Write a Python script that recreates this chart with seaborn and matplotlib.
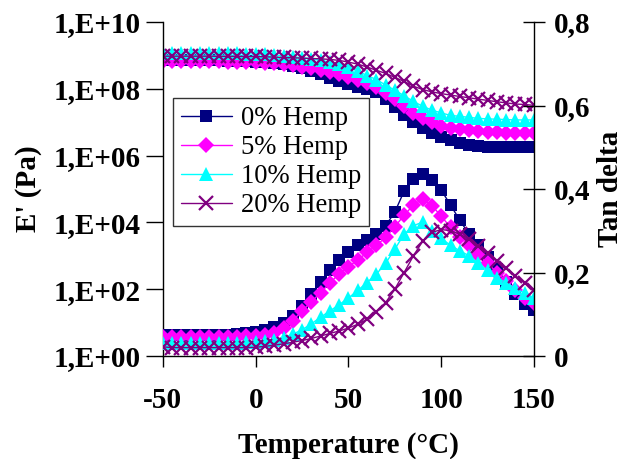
import numpy as np
import pandas as pd
import matplotlib
matplotlib.use("Agg")
import matplotlib.pyplot as plt
from matplotlib.ticker import FixedLocator, FuncFormatter, NullLocator
import seaborn as sns

# temperature grid (°C)
temp = [-50, -45, -40, -35, -30, -25, -20, -15, -10, -5, 0, 5, 10, 15, 20, 25, 30, 35, 40, 45,
        50, 55, 60, 65, 70, 75, 80, 85, 90, 95, 100, 105, 110, 115, 120, 125, 130, 135, 140, 145, 150]

labels = ["0% Hemp", "5% Hemp", "10% Hemp", "20% Hemp"]

# storage modulus E' (Pa)
e_0 = [7.2e8, 7.2e8, 7.2e8, 7.2e8, 7.2e8, 7.1e8, 7.1e8, 7.0e8, 6.9e8, 6.7e8, 6.5e8, 6.2e8, 5.8e8, 5.4e8, 4.9e8, 4.2e8, 3.5e8, 2.7e8, 2.1e8, 1.7e8,
       1.4e8, 1.17e8, 1.0e8, 7.9e7, 5.0e7, 2.8e7, 1.6e7, 1.0e7, 6.8e6, 4.7e6, 3.5e6, 2.9e6, 2.4e6, 2.1e6, 1.9e6, 1.8e6, 1.8e6, 1.8e6, 1.8e6, 1.8e6, 1.8e6]
e_5 = [6.6e8, 6.6e8, 6.6e8, 6.6e8, 6.6e8, 6.6e8, 6.6e8, 6.5e8, 6.5e8, 6.4e8, 6.3e8, 6.0e8, 5.8e8, 5.4e8, 5.0e8, 4.6e8, 4.1e8, 3.6e8, 3.2e8, 2.8e8,
       2.3e8, 1.9e8, 1.5e8, 1.1e8, 7.6e7, 4.8e7, 3.0e7, 1.9e7, 1.35e7, 1.0e7, 7.9e6, 6.9e6, 6.3e6, 5.9e6, 5.5e6, 5.2e6, 5.0e6, 4.8e6, 4.8e6, 4.8e6, 4.8e6]
e_10 = [1.2e9, 1.2e9, 1.2e9, 1.2e9, 1.17e9, 1.17e9, 1.17e9, 1.15e9, 1.15e9, 1.12e9, 1.1e9, 1.07e9, 1.02e9, 9.8e8, 9.1e8, 8.5e8, 7.9e8, 7.1e8, 6.3e8, 5.4e8,
        4.4e8, 3.4e8, 2.5e8, 1.9e8, 1.3e8, 9.1e7, 6.2e7, 4.2e7, 3.0e7, 2.3e7, 1.9e7, 1.6e7, 1.5e7, 1.4e7, 1.3e7, 1.26e7, 1.23e7, 1.2e7, 1.17e7, 1.17e7, 1.17e7]
e_20 = [9.5e8, 9.5e8, 9.5e8, 9.5e8, 9.5e8, 9.5e8, 9.4e8, 9.4e8, 9.4e8, 9.3e8, 9.3e8, 9.1e8, 8.9e8, 8.7e8, 8.5e8, 8.3e8, 8.1e8, 7.9e8, 7.6e8, 7.1e8,
        6.3e8, 5.5e8, 4.5e8, 3.6e8, 2.9e8, 2.2e8, 1.66e8, 1.2e8, 9.5e7, 8.1e7, 7.2e7, 6.5e7, 5.9e7, 5.4e7, 4.9e7, 4.5e7, 4.1e7, 3.8e7, 3.5e7, 3.4e7, 3.2e7]

# tan delta
tan_0 = [0.050, 0.050, 0.050, 0.050, 0.050, 0.050, 0.050, 0.051, 0.052, 0.054, 0.057, 0.062, 0.069, 0.080, 0.097, 0.120, 0.148, 0.178, 0.206, 0.230,
         0.249, 0.265, 0.279, 0.293, 0.312, 0.345, 0.395, 0.425, 0.435, 0.422, 0.397, 0.362, 0.325, 0.292, 0.265, 0.238, 0.208, 0.178, 0.148, 0.125, 0.110]
tan_5 = [0.046, 0.046, 0.046, 0.046, 0.046, 0.046, 0.046, 0.046, 0.046, 0.047, 0.048, 0.051, 0.056, 0.068, 0.085, 0.108, 0.130, 0.152, 0.175, 0.197,
         0.214, 0.230, 0.248, 0.265, 0.284, 0.310, 0.337, 0.362, 0.376, 0.360, 0.335, 0.308, 0.285, 0.265, 0.243, 0.222, 0.200, 0.180, 0.158, 0.140, 0.127]
tan_10 = [0.032, 0.032, 0.032, 0.032, 0.032, 0.032, 0.032, 0.032, 0.032, 0.033, 0.034, 0.036, 0.038, 0.044, 0.052, 0.063, 0.077, 0.093, 0.108, 0.123,
          0.139, 0.157, 0.176, 0.196, 0.222, 0.256, 0.292, 0.312, 0.321, 0.300, 0.282, 0.265, 0.252, 0.240, 0.222, 0.205, 0.188, 0.175, 0.162, 0.150, 0.139]
tan_20 = [0.022, 0.020, 0.020, 0.020, 0.020, 0.020, 0.020, 0.020, 0.020, 0.020, 0.021, 0.023, 0.026, 0.029, 0.033, 0.037, 0.042, 0.048, 0.054, 0.060,
          0.067, 0.076, 0.088, 0.105, 0.128, 0.160, 0.200, 0.240, 0.275, 0.296, 0.303, 0.300, 0.292, 0.280, 0.264, 0.246, 0.228, 0.210, 0.192, 0.175, 0.158]

colors = ["#000080", "#FF00FF", "#00FFFF", "#800080"]
markers = ["s", "D", "^", "x"]
msizes = [8.5, 8.5, 9.5, 9.5]

sns.set_style("ticks")
plt.rcParams["font.family"] = ["Liberation Serif", "DejaVu Serif"]
plt.rcParams["axes.unicode_minus"] = False
plt.rcParams["text.color"] = "black"
plt.rcParams["axes.labelcolor"] = "black"

fig = plt.figure(figsize=(6.29, 4.59), dpi=100)
ax = fig.add_axes([0.259, 0.2244, 0.59, 0.7276])
ax2 = ax.twinx()

for vals, c, m, ms, lab in zip([e_0, e_5, e_10, e_20], colors, markers, msizes, labels):
    sns.lineplot(x=temp, y=vals, ax=ax, color=c, marker=m, markersize=ms,
                 markeredgewidth=1.6 if m == "x" else 0, markeredgecolor=c,
                 linewidth=1, label=lab, legend=False)

for vals, c, m, ms in zip([tan_0, tan_5, tan_10, tan_20], colors, markers, msizes):
    sns.lineplot(x=temp, y=vals, ax=ax2, color=c, marker=m, markersize=ms,
                 markeredgewidth=1.6 if m == "x" else 0, markeredgecolor=c,
                 linewidth=1, legend=False)

ax.set_yscale("log")
ax.set_ylim(1, 1e10)
ax.set_xlim(-50, 150)
ax.yaxis.set_major_locator(FixedLocator([1e0, 1e2, 1e4, 1e6, 1e8, 1e10]))
ax.yaxis.set_minor_locator(NullLocator())
ax.yaxis.set_major_formatter(FuncFormatter(lambda v, p: "1,E+%02d" % round(np.log10(v))))
ax.set_xticks([-50, 0, 50, 100, 150])

ax2.set_ylim(0, 0.8)
ax2.set_yticks([0, 0.2, 0.4, 0.6, 0.8])
ax2.yaxis.set_major_formatter(FuncFormatter(lambda v, p: ("%g" % round(v, 1)).replace(".", ",")))

for a in (ax, ax2):
    a.spines["top"].set_visible(False)
    for s in a.spines.values():
        s.set_color("black")
        s.set_linewidth(1)
ax.spines["right"].set_visible(False)
ax2.spines["left"].set_visible(False)
ax2.spines["bottom"].set_visible(False)

ax.tick_params(axis="y", direction="out", length=12, width=1, labelsize=21, pad=4, colors="black")
ax.tick_params(axis="x", direction="out", length=8, width=1, labelsize=21, pad=14, colors="black")
ax2.tick_params(axis="y", direction="inout", length=16, width=1, labelsize=21, pad=6, colors="black")
for lab in ax.get_xticklabels() + ax.get_yticklabels() + ax2.get_yticklabels():
    lab.set_fontweight("bold")

ax.set_xlabel("Temperature (°C)", fontsize=21, fontweight="bold", labelpad=13, color="black")
ax.set_ylabel("E' (Pa)", fontsize=21, fontweight="bold", labelpad=8, color="black")
ax2.set_ylabel("Tan delta", fontsize=21, fontweight="bold", labelpad=5, color="black")

leg = ax.legend(loc="upper left", bbox_to_anchor=(0.027, 0.772), borderaxespad=0,
                fontsize=19.2, frameon=True, fancybox=False, edgecolor="black",
                handlelength=1.9, handletextpad=0.35, labelspacing=0.15,
                borderpad=0.3)
leg.get_frame().set_linewidth(1)
for t in leg.get_texts():
    t.set_color("black")
leg.set_zorder(10)

fig.savefig("out.png", dpi=100)
